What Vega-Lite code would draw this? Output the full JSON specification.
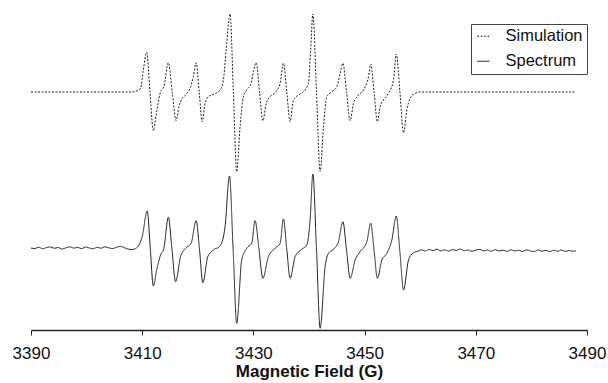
{
  "$schema": "https://vega.github.io/schema/vega-lite/v6.json",
  "width": 556,
  "height": 330,
  "autosize": "none",
  "padding": {"left": 31, "top": 0, "right": 21, "bottom": 53},
  "background": "white",
  "data": {"values": [
{"s":"Simulation","b":3390,"i":238},{"s":"Simulation","b":3400,"i":238},{"s":"Simulation","b":3408.0,"i":238},{"s":"Simulation","b":3409.1,"i":239.3},{"s":"Simulation","b":3409.7,"i":241.7},{"s":"Simulation","b":3410.2,"i":260},{"s":"Simulation","b":3410.8,"i":277.7},{"s":"Simulation","b":3411.4,"i":238},{"s":"Simulation","b":3412.0,"i":199.3},{"s":"Simulation","b":3412.5,"i":215},{"s":"Simulation","b":3413.3,"i":238.3},{"s":"Simulation","b":3413.9,"i":243.3},{"s":"Simulation","b":3414.7,"i":267.3},{"s":"Simulation","b":3415.4,"i":238},{"s":"Simulation","b":3416.1,"i":209.3},{"s":"Simulation","b":3416.6,"i":223.3},{"s":"Simulation","b":3417.2,"i":231.7},{"s":"Simulation","b":3417.8,"i":235},{"s":"Simulation","b":3418.6,"i":241.7},{"s":"Simulation","b":3419.2,"i":253.3},{"s":"Simulation","b":3419.7,"i":267.3},{"s":"Simulation","b":3420.25,"i":238},{"s":"Simulation","b":3420.8,"i":208.3},{"s":"Simulation","b":3421.3,"i":226.7},{"s":"Simulation","b":3421.9,"i":233.3},{"s":"Simulation","b":3422.8,"i":235.7},{"s":"Simulation","b":3424.0,"i":240},{"s":"Simulation","b":3424.6,"i":250},{"s":"Simulation","b":3425.1,"i":280},{"s":"Simulation","b":3425.8,"i":316},{"s":"Simulation","b":3426.4,"i":238},{"s":"Simulation","b":3427.0,"i":158.3},{"s":"Simulation","b":3427.6,"i":203.3},{"s":"Simulation","b":3428.2,"i":233.3},{"s":"Simulation","b":3428.8,"i":240},{"s":"Simulation","b":3429.6,"i":246.7},{"s":"Simulation","b":3430.0,"i":258.3},{"s":"Simulation","b":3430.5,"i":267.3},{"s":"Simulation","b":3431.1,"i":238},{"s":"Simulation","b":3431.7,"i":209.3},{"s":"Simulation","b":3432.3,"i":226.7},{"s":"Simulation","b":3433.0,"i":233.3},{"s":"Simulation","b":3433.9,"i":237.3},{"s":"Simulation","b":3434.8,"i":246.7},{"s":"Simulation","b":3435.4,"i":266.7},{"s":"Simulation","b":3436.0,"i":238},{"s":"Simulation","b":3436.6,"i":208.3},{"s":"Simulation","b":3437.2,"i":230},{"s":"Simulation","b":3438.1,"i":235},{"s":"Simulation","b":3439.0,"i":238.3},{"s":"Simulation","b":3439.9,"i":246.7},{"s":"Simulation","b":3440.3,"i":280},{"s":"Simulation","b":3440.7,"i":316},{"s":"Simulation","b":3441.35,"i":238},{"s":"Simulation","b":3442.0,"i":158.3},{"s":"Simulation","b":3442.6,"i":203.3},{"s":"Simulation","b":3443.2,"i":233.3},{"s":"Simulation","b":3444.1,"i":238.3},{"s":"Simulation","b":3445.0,"i":243.3},{"s":"Simulation","b":3445.6,"i":256.7},{"s":"Simulation","b":3446.1,"i":266.7},{"s":"Simulation","b":3446.75,"i":238},{"s":"Simulation","b":3447.4,"i":209.3},{"s":"Simulation","b":3448.0,"i":226.7},{"s":"Simulation","b":3448.9,"i":235},{"s":"Simulation","b":3449.8,"i":240},{"s":"Simulation","b":3450.7,"i":253.3},{"s":"Simulation","b":3451.1,"i":266},{"s":"Simulation","b":3451.7,"i":238},{"s":"Simulation","b":3452.3,"i":208.3},{"s":"Simulation","b":3452.8,"i":223.3},{"s":"Simulation","b":3453.4,"i":230},{"s":"Simulation","b":3454.3,"i":236.7},{"s":"Simulation","b":3455.2,"i":250},{"s":"Simulation","b":3455.7,"i":276},{"s":"Simulation","b":3456.35,"i":238},{"s":"Simulation","b":3457.0,"i":197.3},{"s":"Simulation","b":3457.6,"i":220},{"s":"Simulation","b":3458.2,"i":231.7},{"s":"Simulation","b":3459.1,"i":236.7},{"s":"Simulation","b":3460,"i":238},{"s":"Simulation","b":3488,"i":238},
{"s":"Spectrum","b":3390,"i":82},{"s":"Spectrum","b":3390.7,"i":81.5},{"s":"Spectrum","b":3391.4,"i":82.8},{"s":"Spectrum","b":3392.1,"i":81.2},{"s":"Spectrum","b":3392.8,"i":82.5},{"s":"Spectrum","b":3393.5,"i":83},{"s":"Spectrum","b":3394.2,"i":81.8},{"s":"Spectrum","b":3394.9,"i":82.4},{"s":"Spectrum","b":3395.6,"i":81},{"s":"Spectrum","b":3396.3,"i":82.2},{"s":"Spectrum","b":3397,"i":83.1},{"s":"Spectrum","b":3397.7,"i":81.9},{"s":"Spectrum","b":3398.4,"i":82.6},{"s":"Spectrum","b":3399.1,"i":81.4},{"s":"Spectrum","b":3399.8,"i":82.9},{"s":"Spectrum","b":3400.5,"i":82},{"s":"Spectrum","b":3401.2,"i":81.3},{"s":"Spectrum","b":3401.9,"i":82.7},{"s":"Spectrum","b":3402.6,"i":81.8},{"s":"Spectrum","b":3403.3,"i":83.2},{"s":"Spectrum","b":3404,"i":82.1},{"s":"Spectrum","b":3404.7,"i":81.5},{"s":"Spectrum","b":3405.4,"i":82.8},{"s":"Spectrum","b":3406.1,"i":83.6},{"s":"Spectrum","b":3406.8,"i":82.3},{"s":"Spectrum","b":3407.5,"i":80.8},{"s":"Spectrum","b":3408.2,"i":80.5},{"s":"Spectrum","b":3408.8,"i":81.5},{"s":"Spectrum","b":3409.1,"i":82.7},{"s":"Spectrum","b":3410.0,"i":93.3},{"s":"Spectrum","b":3410.9,"i":119},{"s":"Spectrum","b":3411.45,"i":82},{"s":"Spectrum","b":3412.0,"i":44},{"s":"Spectrum","b":3412.6,"i":60},{"s":"Spectrum","b":3413.3,"i":75},{"s":"Spectrum","b":3413.9,"i":81.7},{"s":"Spectrum","b":3414.7,"i":112.7},{"s":"Spectrum","b":3415.35,"i":81},{"s":"Spectrum","b":3416.0,"i":48.3},{"s":"Spectrum","b":3416.9,"i":73.3},{"s":"Spectrum","b":3417.8,"i":81.7},{"s":"Spectrum","b":3418.8,"i":86.7},{"s":"Spectrum","b":3419.7,"i":109.3},{"s":"Spectrum","b":3420.3,"i":81},{"s":"Spectrum","b":3420.9,"i":47.3},{"s":"Spectrum","b":3421.8,"i":73.3},{"s":"Spectrum","b":3422.8,"i":80},{"s":"Spectrum","b":3424.0,"i":84},{"s":"Spectrum","b":3424.9,"i":103.3},{"s":"Spectrum","b":3425.7,"i":154},{"s":"Spectrum","b":3426.35,"i":81},{"s":"Spectrum","b":3427.0,"i":6.7},{"s":"Spectrum","b":3427.9,"i":70},{"s":"Spectrum","b":3428.8,"i":81.7},{"s":"Spectrum","b":3429.7,"i":86.7},{"s":"Spectrum","b":3430.3,"i":109.3},{"s":"Spectrum","b":3431.0,"i":81},{"s":"Spectrum","b":3431.7,"i":51.7},{"s":"Spectrum","b":3432.7,"i":73.3},{"s":"Spectrum","b":3433.9,"i":81.7},{"s":"Spectrum","b":3434.8,"i":86.7},{"s":"Spectrum","b":3435.4,"i":111},{"s":"Spectrum","b":3436.0,"i":81},{"s":"Spectrum","b":3436.6,"i":51.7},{"s":"Spectrum","b":3437.5,"i":73.3},{"s":"Spectrum","b":3438.7,"i":80.7},{"s":"Spectrum","b":3439.6,"i":85},{"s":"Spectrum","b":3440.2,"i":110},{"s":"Spectrum","b":3440.7,"i":156},{"s":"Spectrum","b":3441.35,"i":80},{"s":"Spectrum","b":3442.0,"i":1.7},{"s":"Spectrum","b":3442.9,"i":63.3},{"s":"Spectrum","b":3443.5,"i":76.7},{"s":"Spectrum","b":3444.4,"i":80.7},{"s":"Spectrum","b":3445.3,"i":88.3},{"s":"Spectrum","b":3446.1,"i":108.3},{"s":"Spectrum","b":3446.75,"i":80},{"s":"Spectrum","b":3447.4,"i":51.7},{"s":"Spectrum","b":3448.3,"i":70},{"s":"Spectrum","b":3449.2,"i":78.3},{"s":"Spectrum","b":3450.4,"i":88.3},{"s":"Spectrum","b":3451.1,"i":106.7},{"s":"Spectrum","b":3451.7,"i":80},{"s":"Spectrum","b":3452.3,"i":51.7},{"s":"Spectrum","b":3453.1,"i":70},{"s":"Spectrum","b":3454.0,"i":76.7},{"s":"Spectrum","b":3454.9,"i":90},{"s":"Spectrum","b":3455.7,"i":114},{"s":"Spectrum","b":3456.35,"i":78},{"s":"Spectrum","b":3457.0,"i":40},{"s":"Spectrum","b":3457.9,"i":70},{"s":"Spectrum","b":3458.8,"i":77.3},{"s":"Spectrum","b":3459.5,"i":78.6},{"s":"Spectrum","b":3460.2,"i":80.2},{"s":"Spectrum","b":3460.9,"i":79.1},{"s":"Spectrum","b":3461.6,"i":80.5},{"s":"Spectrum","b":3462.3,"i":79.4},{"s":"Spectrum","b":3463,"i":80.8},{"s":"Spectrum","b":3463.7,"i":79.2},{"s":"Spectrum","b":3464.4,"i":80.1},{"s":"Spectrum","b":3465.1,"i":78.9},{"s":"Spectrum","b":3465.8,"i":80.4},{"s":"Spectrum","b":3466.5,"i":79.6},{"s":"Spectrum","b":3467.2,"i":80.9},{"s":"Spectrum","b":3467.9,"i":79.3},{"s":"Spectrum","b":3468.6,"i":80},{"s":"Spectrum","b":3469.3,"i":78.8},{"s":"Spectrum","b":3470,"i":79.9},{"s":"Spectrum","b":3470.7,"i":80.6},{"s":"Spectrum","b":3471.4,"i":79.2},{"s":"Spectrum","b":3472.1,"i":79.9},{"s":"Spectrum","b":3472.8,"i":78.7},{"s":"Spectrum","b":3473.5,"i":80.3},{"s":"Spectrum","b":3474.2,"i":79.1},{"s":"Spectrum","b":3474.9,"i":79.8},{"s":"Spectrum","b":3475.6,"i":78.6},{"s":"Spectrum","b":3476.3,"i":80.2},{"s":"Spectrum","b":3477,"i":79},{"s":"Spectrum","b":3477.7,"i":79.7},{"s":"Spectrum","b":3478.4,"i":78.5},{"s":"Spectrum","b":3479.1,"i":80.1},{"s":"Spectrum","b":3479.8,"i":79.2},{"s":"Spectrum","b":3480.5,"i":78.4},{"s":"Spectrum","b":3481.2,"i":80},{"s":"Spectrum","b":3481.9,"i":78.9},{"s":"Spectrum","b":3482.6,"i":79.6},{"s":"Spectrum","b":3483.3,"i":78.3},{"s":"Spectrum","b":3484,"i":79.8},{"s":"Spectrum","b":3484.7,"i":78.7},{"s":"Spectrum","b":3485.4,"i":80},{"s":"Spectrum","b":3486.1,"i":78.6},{"s":"Spectrum","b":3486.8,"i":79.4},{"s":"Spectrum","b":3487.5,"i":78.8},{"s":"Spectrum","b":3488,"i":79.2}
  ]},
  "mark": {"type": "line", "strokeWidth": 1, "color": "#222", "interpolate": "monotone"},
  "encoding": {
    "x": {
      "field": "b", "type": "quantitative",
      "scale": {"domain": [3390, 3490], "nice": false},
      "axis": {
        "values": [3390, 3410, 3430, 3450, 3470, 3490],
        "format": "d",
        "title": "Magnetic Field (G)",
        "grid": false,
        "domainColor": "#222", "domainWidth": 1.5,
        "tickColor": "#222", "tickSize": 5, "tickWidth": 1,
        "labelFont": "Liberation Sans", "labelFontSize": 17, "labelColor": "#111",
        "labelPadding": 10, "labelOverlap": false, "labelFlush": false,
        "titleFont": "Liberation Sans", "titleFontSize": 17, "titleFontWeight": "bold",
        "titleColor": "#111", "titlePadding": 2
      }
    },
    "y": {
      "field": "i", "type": "quantitative",
      "scale": {"domain": [0, 330], "nice": false, "zero": false},
      "axis": null
    },
    "strokeDash": {
      "field": "s", "type": "nominal",
      "scale": {"domain": ["Simulation", "Spectrum"], "range": [[2, 1.5], [1, 0]]},
      "legend": {
        "title": null,
        "orient": "none",
        "legendX": 440,
        "legendY": 24,
        "strokeColor": "#444",
        "fillColor": "white",
        "padding": 4,
        "labelFont": "Liberation Sans",
        "labelFontSize": 16.5,
        "labelColor": "#111",
        "symbolType": "stroke",
        "symbolStrokeColor": "#222",
        "symbolStrokeWidth": 1,
        "symbolSize": 150,
        "rowPadding": 8,
        "labelOffset": 14
      }
    }
  },
  "config": {"view": {"stroke": null}}
}
